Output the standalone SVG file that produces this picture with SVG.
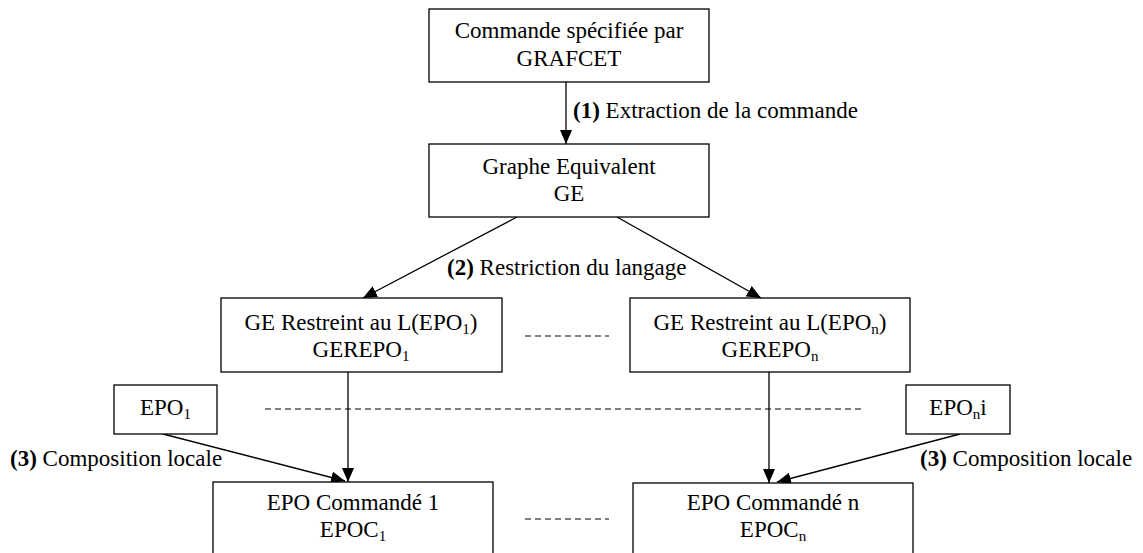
<svg xmlns="http://www.w3.org/2000/svg" width="1143" height="553" viewBox="0 0 1143 553" font-family="Liberation Serif, Times New Roman, Times, serif">
<defs>
<style>
.box{fill:#fff;stroke:#000;stroke-width:1.3}
.t{font-family:"Liberation Serif", "Times New Roman", Times, serif;font-size:23px;fill:#000}
.c{text-anchor:middle}
.ln{stroke:#000;stroke-width:1.3;fill:none}
.dash{stroke:#000;stroke-width:1.2;stroke-dasharray:6,4;fill:none}
.sub{font-size:15px}
</style>
<marker id="ah" markerUnits="userSpaceOnUse" markerWidth="14" markerHeight="12" viewBox="0 0 14 12" refX="14" refY="6" orient="auto">
<path d="M0,0 L14,6 L0,12 Z" fill="#000"/>
</marker>
</defs>
<rect width="1143" height="553" fill="#fff"/>
<g id="connectors">
<line class="ln" x1="566" y1="82" x2="566" y2="144" marker-end="url(#ah)"/>
<line class="ln" x1="517" y1="217" x2="363" y2="298" marker-end="url(#ah)"/>
<line class="ln" x1="617" y1="217" x2="761" y2="298" marker-end="url(#ah)"/>
<line class="ln" x1="348" y1="372" x2="348" y2="482" marker-end="url(#ah)"/>
<line class="ln" x1="769" y1="372" x2="769" y2="483" marker-end="url(#ah)"/>
<line class="ln" x1="163" y1="434" x2="345" y2="481" marker-end="url(#ah)"/>
<line class="ln" x1="960" y1="434" x2="777" y2="482" marker-end="url(#ah)"/>
<line class="dash" x1="525" y1="336" x2="609" y2="336"/>
<line class="dash" x1="265" y1="409" x2="861" y2="409"/>
<line class="dash" x1="525" y1="519" x2="609" y2="519"/>
<text class="t" x="573" y="118"><tspan font-weight="bold">(1)</tspan> Extraction de la commande</text>
<text class="t" x="447" y="275"><tspan font-weight="bold">(2)</tspan> Restriction du langage</text>
<text class="t" x="10" y="466"><tspan font-weight="bold">(3)</tspan> Composition locale</text>
<text class="t" x="920" y="466"><tspan font-weight="bold">(3)</tspan> Composition locale</text>
</g>
<g id="n-commande">
<rect class="box" x="429" y="9" width="280" height="73"/>
<text class="t c" x="569" y="38">Commande spécifiée par</text>
<text class="t c" x="569" y="66">GRAFCET</text>
</g>
<g id="n-ge">
<rect class="box" x="429" y="144" width="280" height="73"/>
<text class="t c" x="569" y="174">Graphe Equivalent</text>
<text class="t c" x="569" y="201">GE</text>
</g>
<g id="n-gerepo1">
<rect class="box" x="221" y="298" width="281" height="74"/>
<text class="t c" x="361" y="330">GE Restreint au L(EPO<tspan class="sub" dy="4">1</tspan><tspan dy="-4">)</tspan></text>
<text class="t c" x="361" y="357">GEREPO<tspan class="sub" dy="4">1</tspan></text>
</g>
<g id="n-gerepon">
<rect class="box" x="630" y="298" width="280" height="74"/>
<text class="t c" x="770" y="330">GE Restreint au L(EPO<tspan class="sub" dy="4">n</tspan><tspan dy="-4">)</tspan></text>
<text class="t c" x="770" y="357">GEREPO<tspan class="sub" dy="4">n</tspan></text>
</g>
<g id="n-epo1">
<rect class="box" x="114" y="385" width="103" height="49"/>
<text class="t c" x="165.5" y="415">EPO<tspan class="sub" dy="4">1</tspan></text>
</g>
<g id="n-eponi">
<rect class="box" x="906" y="385" width="104" height="49"/>
<text class="t c" x="958" y="415">EPO<tspan class="sub" dy="4">n</tspan><tspan dy="-4">i</tspan></text>
</g>
<g id="n-epoc1">
<rect class="box" x="213" y="482" width="280" height="80"/>
<text class="t c" x="353" y="510">EPO Commandé 1</text>
<text class="t c" x="353" y="537">EPOC<tspan class="sub" dy="4">1</tspan></text>
</g>
<g id="n-epocn">
<rect class="box" x="633" y="483" width="280" height="80"/>
<text class="t c" x="773" y="510">EPO Commandé n</text>
<text class="t c" x="773" y="537">EPOC<tspan class="sub" dy="4">n</tspan></text>
</g>
</svg>
